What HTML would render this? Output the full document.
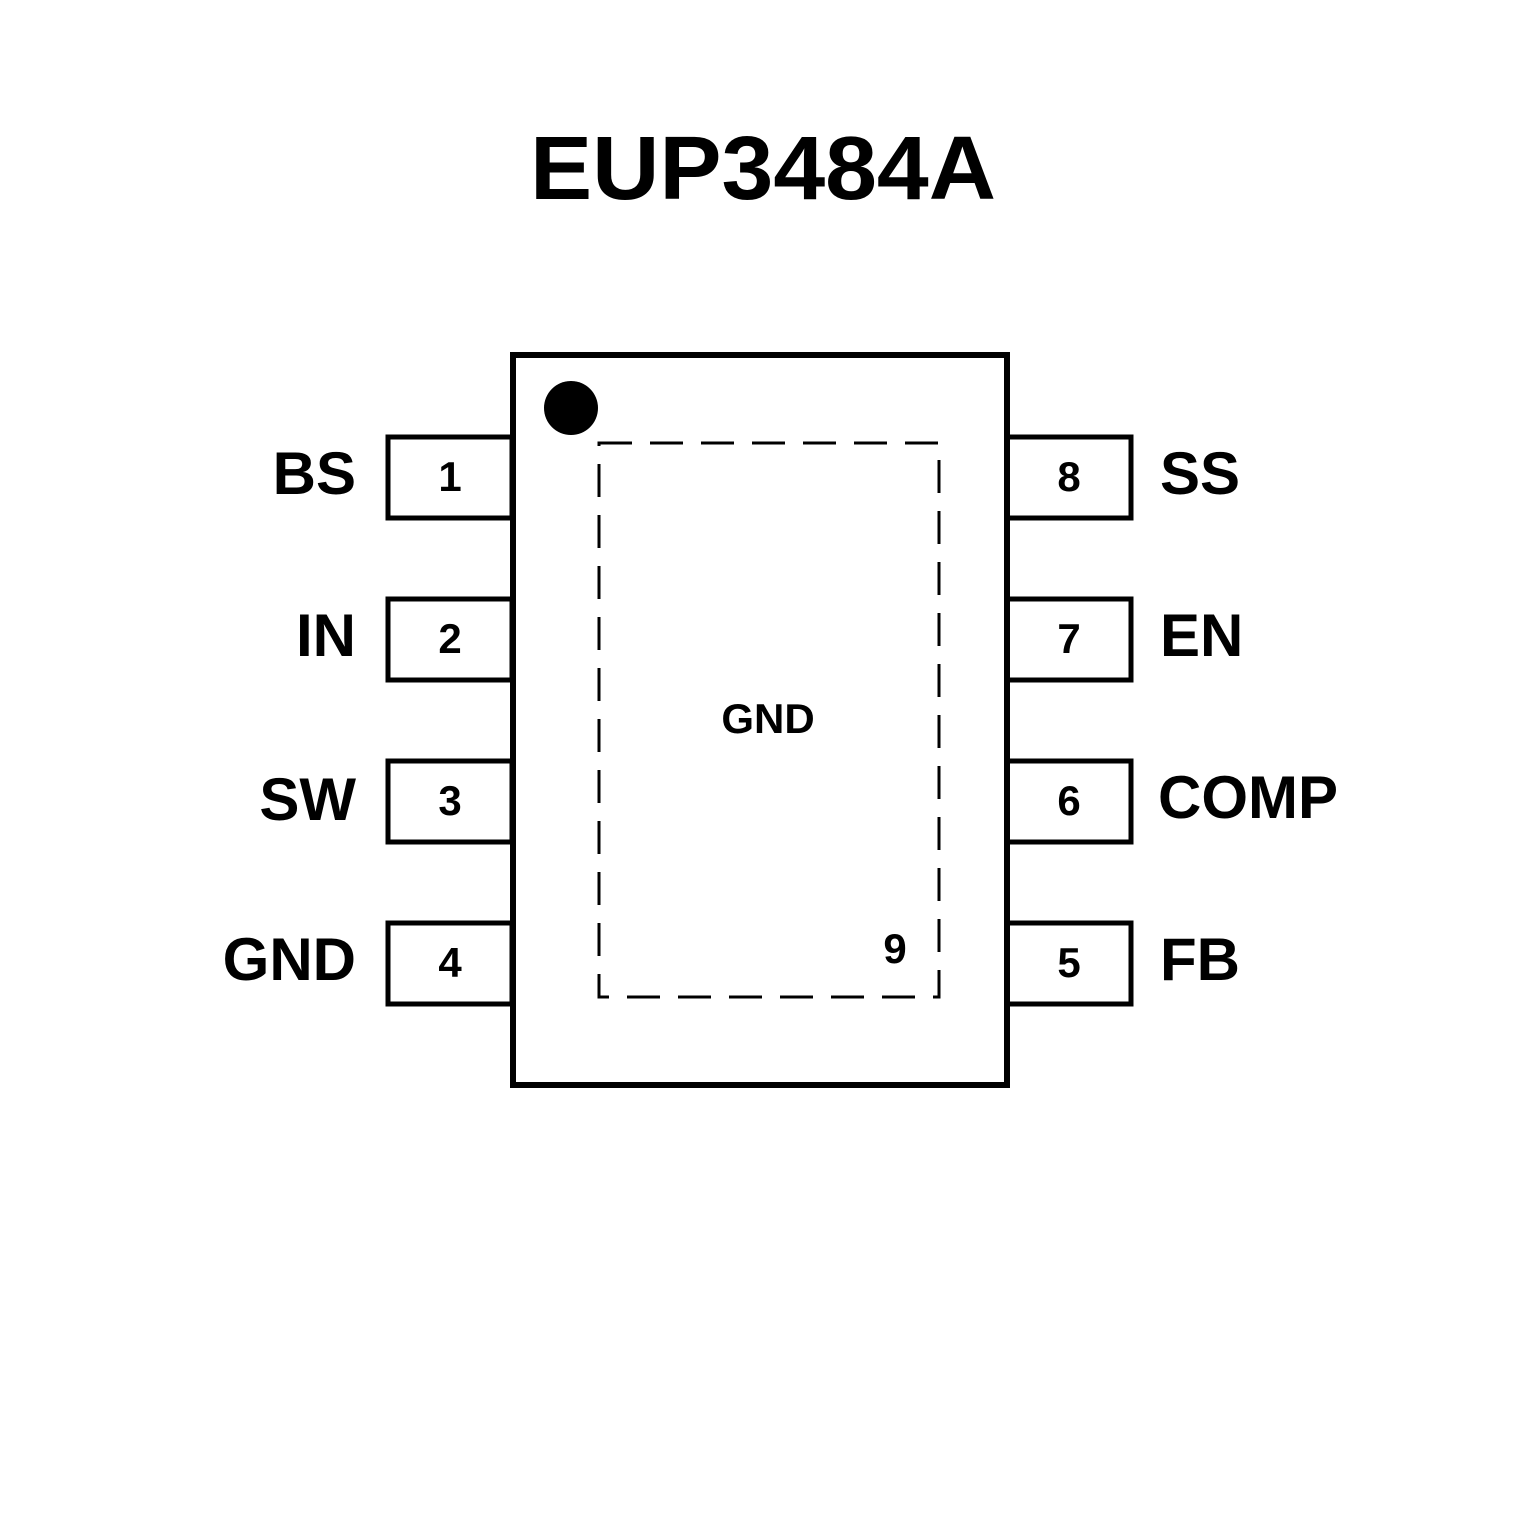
<!DOCTYPE html>
<html><head><meta charset="utf-8"><style>
html,body{margin:0;padding:0;background:#fff;}
svg{display:block;}
</style></head><body>
<svg width="1535" height="1535" viewBox="0 0 1535 1535" xmlns="http://www.w3.org/2000/svg">
<rect width="1535" height="1535" fill="#fff"/>
<text x="763" y="199" text-anchor="middle" font-family="Liberation Sans, DejaVu Sans, sans-serif" font-weight="bold" font-size="90" textLength="466" lengthAdjust="spacingAndGlyphs">EUP3484A</text>
<g fill="#fff" stroke="#000" stroke-width="5">
<rect x="388" y="437" width="124" height="81"/>
<rect x="388" y="599" width="124" height="81"/>
<rect x="388" y="761" width="124" height="81"/>
<rect x="388" y="923" width="124" height="81"/>
<rect x="1007" y="437" width="124" height="81"/>
<rect x="1007" y="599" width="124" height="81"/>
<rect x="1007" y="761" width="124" height="81"/>
<rect x="1007" y="923" width="124" height="81"/>
</g>
<rect x="513" y="355" width="494" height="730" fill="#fff" stroke="#000" stroke-width="6"/>
<circle cx="571" cy="408" r="27" fill="#000"/>
<rect x="599" y="443" width="340" height="554" fill="none" stroke="#000" stroke-width="3" stroke-dasharray="33 18"/>
<g font-family="Liberation Sans, Arial, sans-serif" font-weight="bold" fill="#000">
<g font-size="42" text-anchor="middle">
<text x="450" y="491">1</text>
<text x="450" y="653">2</text>
<text x="450" y="815">3</text>
<text x="450" y="977">4</text>
<text x="1069" y="491">8</text>
<text x="1069" y="653">7</text>
<text x="1069" y="815">6</text>
<text x="1069" y="977">5</text>
<text x="768" y="733">GND</text>
<text x="895" y="963">9</text>
</g>
<g font-size="60" text-anchor="end">
<text x="356" y="494">BS</text>
<text x="356" y="656">IN</text>
<text x="356" y="820">SW</text>
<text x="356" y="980">GND</text>
</g>
<g font-size="60" text-anchor="start">
<text x="1160" y="494">SS</text>
<text x="1160" y="656">EN</text>
<text x="1158" y="818">COMP</text>
<text x="1160" y="980">FB</text>
</g>
</g>
</svg>
</body></html>
